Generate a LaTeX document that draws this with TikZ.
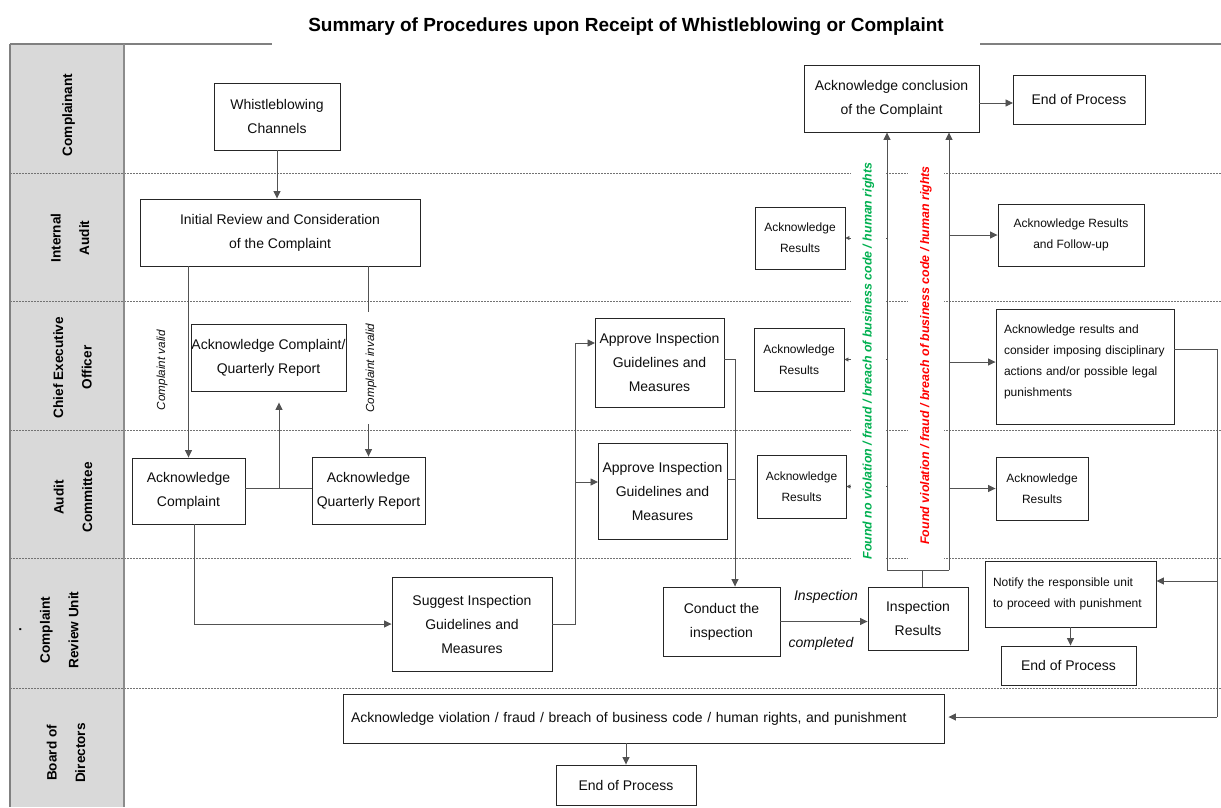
\documentclass[tikz,border=0pt]{standalone}
\usepackage{fontspec}
\setmainfont{Liberation Sans}
\usetikzlibrary{arrows.meta,calc}
\newcommand\mainfs{\fontsize{14}{24}\selectfont}
\newcommand\smallfs{\fontsize{12}{21}\selectfont}
\newcommand\lanefs{\fontsize{13.6}{28.5}\selectfont\bfseries}
\definecolor{lanegray}{HTML}{D9D9D9}
\definecolor{fgreen}{HTML}{00B050}
\definecolor{fred}{HTML}{FF0000}
\tikzset{
  box/.style={draw=black!85, line width=0.9pt, inner sep=0pt, align=center, font=\mainfs, text=black!95},
  sbox/.style={box, font=\smallfs},
  conn/.style={draw=black!68, line width=0.9pt},
  arr/.style={conn, -{Triangle[length=7.5pt,width=7pt]}},
  sarr/.style={conn, -{Triangle[length=4pt,width=4pt]}},
  lane/.style={draw=black!55, line width=0.7pt, dash pattern=on 2pt off 1pt},
  lanelbl/.style={rotate=90, align=center, font=\lanefs, inner sep=0pt, text=black},
  itlbl/.style={font=\fontsize{14}{16}\selectfont\itshape, inner sep=0pt, text=black!95},
  vlbl/.style={rotate=90, font=\fontsize{11.7}{14}\selectfont\itshape, inner sep=0pt, text=black!95},
  found/.style={rotate=90, fill=white, font=\fontsize{12.4}{14}\selectfont\bfseries\itshape, inner xsep=14pt, inner ysep=12pt}
}
\begin{document}
\begin{tikzpicture}[x=1pt,y=-1pt]
\useasboundingbox (0,0) rectangle (1221,807);
% frame and lanes
\fill[lanegray] (10,44) rectangle (124,807);
\foreach \yy in {173,301,430,558,688} {\draw[lane] (10,\yy) -- (1221,\yy);}
\draw[draw=black!50, line width=1.2pt] (10,44) -- (272,44);
\draw[draw=black!50, line width=1.2pt] (980,44) -- (1221,44);
\draw[draw=black!50, line width=1.2pt] (10,44) -- (10,807);
\draw[draw=black!45, line width=1.6pt] (124,44) -- (124,807);
% title
\node[inner sep=0pt] (title) at (626,26.5) {\fontsize{19}{22}\selectfont\bfseries Summary of Procedures upon Receipt of Whistleblowing or Complaint};
% lane labels
\node[lanelbl] (l1) at (68.5,115) {Complainant};
\node[lanelbl] (l2) at (70,238) {Internal\\Audit};
\node[lanelbl] (l3) at (72.5,367.5) {Chief Executive\\Officer};
\node[lanelbl] (l4) at (73,497.5) {Audit\\Committee};
\node[lanelbl] (l5) at (49,630) {.\\Complaint\\Review Unit};
\node[lanelbl] (l6) at (66,753) {Board of\\Directors};
% boxes
\node[box, minimum width=126pt, minimum height=67pt] (wb) at (277,116.5) {Whistleblowing\\Channels};
\node[box, minimum width=280pt, minimum height=67pt] (ir) at (280,232.5) {Initial Review and Consideration\\of the Complaint};
\node[box, minimum width=155pt, minimum height=67pt] (ackcqr) at (268.5,357.5) {Acknowledge Complaint/\\Quarterly Report};
\node[box, minimum width=113pt, minimum height=66pt] (ackc) at (188.5,491) {Acknowledge\\Complaint};
\node[box, minimum width=113pt, minimum height=67pt] (ackqr) at (368.5,490.5) {Acknowledge\\Quarterly Report};
\node[box, minimum width=160pt, minimum height=94pt] (sug) at (472,624) {Suggest Inspection\\Guidelines and\\Measures};
\node[box, minimum width=129pt, minimum height=89pt] (apc) at (659.5,362.5) {Approve Inspection\\Guidelines and\\Measures};
\node[box, minimum width=129pt, minimum height=96pt] (apa) at (662.5,491) {Approve Inspection\\Guidelines and\\Measures};
\node[box, minimum width=117pt, minimum height=69pt] (cond) at (721.5,621.5) {Conduct the\\inspection};
\node[box, minimum width=100pt, minimum height=63pt] (insr) at (918,618.5) {Inspection\\Results};
\node[box, minimum width=175pt, minimum height=67pt] (conc) at (891.5,98.5) {Acknowledge conclusion\\of the Complaint};
\node[box, minimum width=132pt, minimum height=49pt] (endt) at (1079,99.5) {End of Process};
\node[sbox, minimum width=90pt, minimum height=62pt] (ar1) at (800,238) {Acknowledge\\Results};
\node[sbox, minimum width=90pt, minimum height=63pt] (ar2) at (799,359.5) {Acknowledge\\Results};
\node[sbox, minimum width=89pt, minimum height=63pt] (ar3) at (801.5,486.5) {Acknowledge\\Results};
\node[sbox, minimum width=146pt, minimum height=62pt] (arf) at (1071,235) {Acknowledge Results\\and Follow-up};
\node[sbox, align=left, text width=162pt, inner xsep=8pt, minimum height=115pt] (arc) at (1085,366.5) {Acknowledge results and\\consider imposing disciplinary\\actions and/or possible legal\\punishments\\[-9pt]\mbox{}};
\node[sbox, minimum width=92pt, minimum height=63pt] (ar4) at (1042,488.5) {Acknowledge\\Results};
\node[sbox, align=left, text width=155pt, inner xsep=8pt, minimum height=66pt] (notify) at (1070.5,594) {Notify the responsible unit\\to proceed with punishment};
\node[box, minimum width=135pt, minimum height=39pt] (endc) at (1068.5,665.5) {End of Process};
\node[box, align=left, text width=585pt, inner xsep=8pt, minimum height=49pt] (ackv) at (643.5,718.5) {Acknowledge violation / fraud / breach of business code / human rights, and punishment};
\node[box, minimum width=140pt, minimum height=40pt] (endb) at (626,785) {End of Process};
% connectors: left part
\draw[arr] (wb.south) -- (wb.south |- ir.north);
\draw[arr] (ackc.north |- ir.south) -- (ackc.north);
\node[vlbl] (lv) at (162,370) {Complaint valid};
\draw[arr] (ackqr.north |- ir.south) -- (ackqr.north);
\node[vlbl, fill=white, inner xsep=11pt, inner ysep=1pt] (liv) at (371,368) {Complaint invalid};
\coordinate (j1) at (279,488);
\draw[conn] (ackc.east |- j1) -- (ackqr.west |- j1);
\draw[arr, shorten >=11pt] (j1) -- (j1 |- ackcqr.south);
\draw[arr] ($(ackc.south)+(5.5,0)$) |- (sug.west);
% inspection guidelines
\coordinate (s1) at (575,624);
\coordinate (a1) at (595,343);
\coordinate (a2) at (598,482);
\draw[arr] (sug.east) -- (s1) |- (a1);
\draw[arr] (s1 |- a2) -- (a2);
\coordinate (c1) at (735,359);
\coordinate (c2) at (735,479);
\draw[arr] (apc.east |- c1) -- (c1) -- (c1 |- cond.north);
\draw[conn] (apa.east |- c2) -- (c2);
\draw[arr] (cond.east) -- (cond.east -| insr.west);
\node[itlbl] (li) at (826,597) {Inspection};
\node[itlbl] (lc) at (821,644) {completed};
% results branches
\coordinate (b0) at (922,570);
\coordinate (b1) at (887,570);
\coordinate (b2) at (949,570);
\draw[sarr] (ar1.east -| b1) -- (ar1.east);
\draw[sarr] (ar2.east -| b1) -- (ar2.east);
\draw[sarr] (ar3.east -| b1) -- (ar3.east);
\node[found, text=fgreen] (fg) at (868.5,361) {Found no violation / fraud / breach of business code / human rights};
\node[found, text=fred] (fr) at (926,355.5) {Found violation / fraud / breach of business code / human rights};
\draw[conn] (insr.north -| b0) -- (b0);
\draw[conn] (b1) -- (b2);
\draw[arr] (b1) -- (b1 |- conc.south);
\draw[arr] (b2) -- (b2 |- conc.south);
\coordinate (r2) at (949,362);
\draw[arr] (arf.west -| b2) -- (arf.west);
\draw[arr] (r2) -- (r2 -| arc.west);
\draw[arr] (ar4.west -| b2) -- (ar4.west);
\coordinate (e1) at (1013,103);
\draw[arr] (e1 -| conc.east) -- (e1);
% punishment path
\coordinate (k0) at (1217,349);
\coordinate (k1) at (1217,581);
\coordinate (k2) at (1217,717);
\draw[conn] (k0 -| arc.east) -- (k0) -- (k2);
\draw[arr] (k1) -- (k1 -| notify.east);
\draw[arr, shorten >=4pt] (k2) -- (k2 -| ackv.east);
\draw[arr] (notify.south) -- (notify.south |- endc.north);
\draw[arr] (endb.north |- ackv.south) -- (endb.north);
\end{tikzpicture}
\end{document}
